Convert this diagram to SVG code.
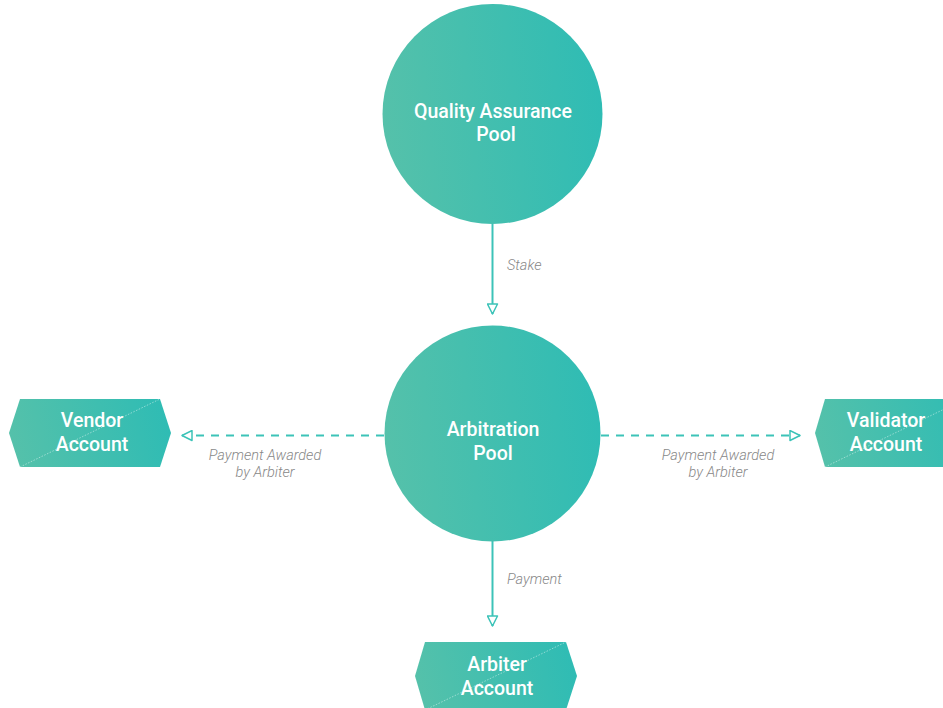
<svg xmlns="http://www.w3.org/2000/svg" width="943" height="708" viewBox="0 0 943 708">
  <defs>
    <linearGradient id="tealFill" x1="0" y1="0.55" x2="1" y2="0.45">
      <stop offset="0" stop-color="#55c1aa"/>
      <stop offset="1" stop-color="#2fbcb4"/>
    </linearGradient>
    <marker id="openArrow" viewBox="0 0 12 12" refX="11" refY="6" markerWidth="12" markerHeight="12" markerUnits="userSpaceOnUse" orient="auto">
      <path d="M1,1 L11,6 L1,11 Z" fill="#ffffff" stroke="#3cc3b8" stroke-width="1.5" stroke-linejoin="round"/>
    </marker>
  </defs>
  <style>
    .pool { fill: url(#tealFill); }
    .acct { fill: url(#tealFill); }
    .seam { stroke: #ffffff; stroke-opacity: 0.55; stroke-width: 0.8; stroke-dasharray: 1.5 1.5; fill: none; }
    .name { font-family: Roboto, "Liberation Sans", sans-serif; font-weight: 500; font-size: 19.5px; fill: #ffffff; text-anchor: middle; }
    .edge { stroke: #3cc3b8; stroke-width: 2; fill: none; }
    .dash { stroke-dasharray: 8 7; }
    .lbl { font-family: Roboto, "Liberation Sans", sans-serif; font-weight: 300; font-style: italic; font-size: 14.5px; fill: #888888; }
  </style>

  <rect width="943" height="708" fill="#ffffff"/>

  <g id="connectors">
    <line class="edge" x1="492.5" y1="224" x2="492.5" y2="314" marker-end="url(#openArrow)"/>
    <text class="lbl" x="507" y="270">Stake</text>

    <line class="edge" x1="492.5" y1="541" x2="492.5" y2="626" marker-end="url(#openArrow)"/>
    <text class="lbl" x="507" y="584">Payment</text>

    <line class="edge dash" x1="384" y1="435.5" x2="182" y2="435.5" marker-end="url(#openArrow)"/>
    <text class="lbl" text-anchor="middle" x="265" y="460">Payment Awarded</text>
    <text class="lbl" text-anchor="middle" x="265" y="477">by Arbiter</text>

    <line class="edge dash" x1="601" y1="435.5" x2="800" y2="435.5" marker-end="url(#openArrow)"/>
    <text class="lbl" text-anchor="middle" x="718" y="460">Payment Awarded</text>
    <text class="lbl" text-anchor="middle" x="718" y="477">by Arbiter</text>
  </g>

  <g id="quality-assurance-pool">
    <circle class="pool" cx="492.5" cy="114" r="110"/>
    <text class="name" x="493" y="118">Quality Assurance</text>
    <text class="name" x="496" y="141">Pool</text>
  </g>

  <g id="arbitration-pool">
    <circle class="pool" cx="492.5" cy="433.5" r="108"/>
    <text class="name" x="493" y="436">Arbitration</text>
    <text class="name" x="493" y="460">Pool</text>
  </g>

  <g id="vendor-account">
    <polygon class="acct" points="20,399 160,399 171,433 160,467 20,467 9,433"/>
    <line class="seam" x1="20" y1="467" x2="160" y2="399"/>
    <text class="name" x="92" y="427">Vendor</text>
    <text class="name" x="92" y="451">Account</text>
  </g>

  <g id="validator-account">
    <polygon class="acct" points="825,399 965,399 976,433 965,467 825,467 815,433"/>
    <line class="seam" x1="825" y1="467" x2="965" y2="399"/>
    <text class="name" x="886" y="427">Validator</text>
    <text class="name" x="886" y="451">Account</text>
  </g>

  <g id="arbiter-account">
    <polygon class="acct" points="425,642 566,642 577,676 566,710 425,710 415,676"/>
    <line class="seam" x1="425" y1="710" x2="566" y2="642"/>
    <text class="name" x="497" y="671">Arbiter</text>
    <text class="name" x="497" y="695">Account</text>
  </g>
</svg>
